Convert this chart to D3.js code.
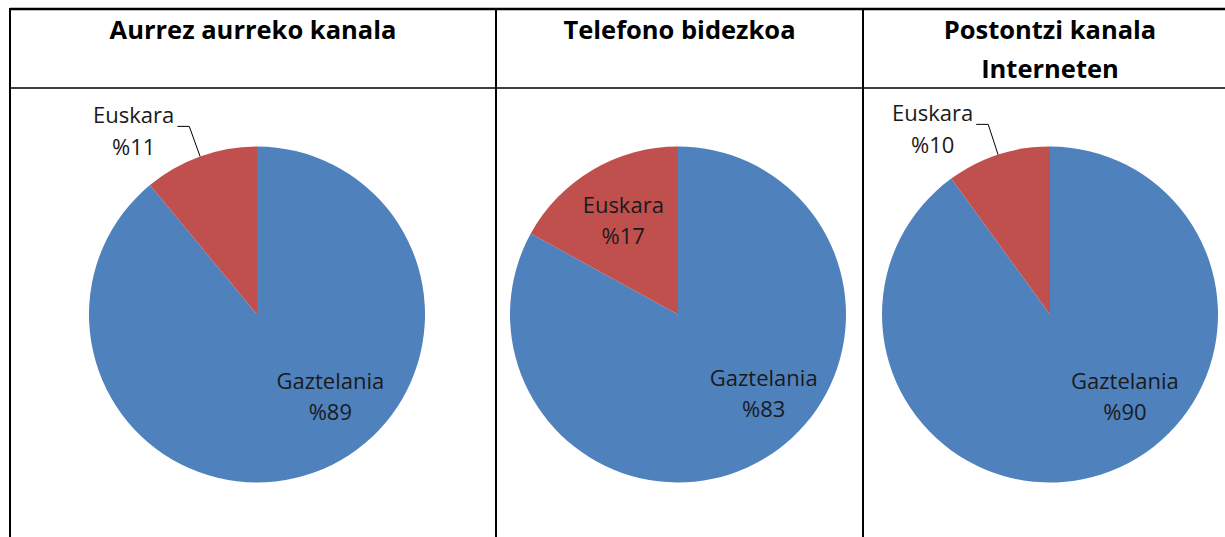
<!doctype html>
<html lang="en">
<head>
    <meta charset="utf-8">
    <title>Hizkuntza kanalka</title>
    <script src="https://cdn.jsdelivr.net/npm/d3@7"></script>
    <style>
        body { margin: 0; background: #fff; }
        svg { display: block; }
        text { font-family: "Open Sans", sans-serif; fill: #1a1a1a; }
        .title { font-weight: bold; font-size: 25.5px; fill: #000; }
        .lbl { font-size: 22px; }
    </style>
</head>
<body>
    <svg></svg>
    <script>
        var width = 1225;
        var height = 537;

        // data
        var titles = [["Aurrez aurreko kanala"], ["Telefono bidezkoa"], ["Postontzi kanala", "Interneten"]];
        var languages = ["Gaztelania", "Euskara"];
        var gaztelania = [89, 83, 90];
        var euskara = [11, 17, 10];

        // where Excel put the labels: [angle (fraction of turn), radius factor, outside?]
        var gazSpot = [[0.385, 0.66], [0.37, 0.70], [0.384, 0.67]];
        var eusOutside = [true, false, true];

        var colors = d3.scaleOrdinal().domain(languages).range(["#4F81BD", "#C0504D"]);

        // table columns
        var colEdges = [10, 496, 863, 1240];
        var tableTop = 9;
        var headBottom = 88;
        var r = 168;
        var cy = 314.5;
        var centersX = [257, 678, 1050];

        var svg = d3.select("svg").attr("width", width).attr("height", height);

        // table lines
        var grid = svg.append("g").attr("stroke", "#000");
        grid.append("line").attr("x1", colEdges[0]).attr("x2", width)
            .attr("y1", tableTop).attr("y2", tableTop).attr("stroke-width", 2.5);
        grid.append("line").attr("x1", colEdges[0]).attr("x2", width)
            .attr("y1", headBottom).attr("y2", headBottom).attr("stroke-width", 1.5);
        grid.selectAll("line.v").data(colEdges.slice(0, 3)).enter()
            .append("line").attr("class", "v")
            .attr("x1", function (d) { return d; }).attr("x2", function (d) { return d; })
            .attr("y1", tableTop - 1).attr("y2", height)
            .attr("stroke-width", 2);

        // titles
        titles.forEach(function (lines, i) {
            var cx = (colEdges[i] + colEdges[i + 1]) / 2;
            if (i == 2) cx = centersX[2];
            svg.append("text").attr("class", "title")
                .attr("text-anchor", "middle")
                .attr("x", cx)
                .selectAll("tspan").data(lines).enter()
                .append("tspan")
                .attr("x", cx)
                .attr("y", function (d, j) { return 39 + j * 39; })
                .text(function (d) { return d; });
        });

        var pie = d3.pie().sort(null).value(function (d) { return d.value; });
        var arc = d3.arc().innerRadius(0).outerRadius(r);

        function polar(a, rad) {
            return [rad * Math.sin(a), -rad * Math.cos(a)];
        }

        function twoLines(g, x, y, name, pct, anchor) {
            var t = g.append("text").attr("class", "lbl").attr("text-anchor", anchor);
            t.append("tspan").attr("x", x).attr("y", y - 9).text(name);
            t.append("tspan").attr("x", x).attr("y", y + 22).text(pct);
            return t;
        }

        for (var i = 0; i < 3; i++) {
            var rows = [
                { name: languages[0], value: gaztelania[i] },
                { name: languages[1], value: euskara[i] }
            ];
            var arcs = pie(rows);
            var g = svg.append("g").attr("transform", "translate(" + centersX[i] + "," + cy + ")");

            g.selectAll("path").data(arcs).enter()
                .append("path")
                .attr("d", arc)
                .attr("fill", function (d) { return colors(d.data.name); });

            // Gaztelania label
            var p = polar(gazSpot[i][0] * 2 * Math.PI, gazSpot[i][1] * r);
            twoLines(g, p[0], p[1], "Gaztelania", "%" + gaztelania[i], "middle");

            // Euskara label
            var e = arcs[1];
            var mid = (e.startAngle + e.endAngle) / 2;
            if (eusOutside[i]) {
                var a0 = polar(mid, r);
                var a1 = polar(mid, r * 1.19);
                var a2 = [a1[0] - 12, a1[1]];
                g.append("path")
                    .attr("d", d3.line()([a0, a1, a2]))
                    .attr("fill", "none").attr("stroke", "#000").attr("stroke-width", 1);
                var t = g.append("text").attr("class", "lbl")
                    .attr("text-anchor", "end")
                    .attr("x", a2[0] - 3).attr("y", a1[1] - 3)
                    .text(languages[1]);
                var w = t.node().getComputedTextLength();
                g.append("text").attr("class", "lbl")
                    .attr("text-anchor", "middle")
                    .attr("x", a2[0] - 3 - w / 2).attr("y", a1[1] + 29)
                    .text("%" + euskara[i]);
            } else {
                var c = polar(mid, r * 0.64);
                twoLines(g, c[0], c[1], languages[1], "%" + euskara[i], "middle");
            }
        }
    </script>
</body>
</html>
